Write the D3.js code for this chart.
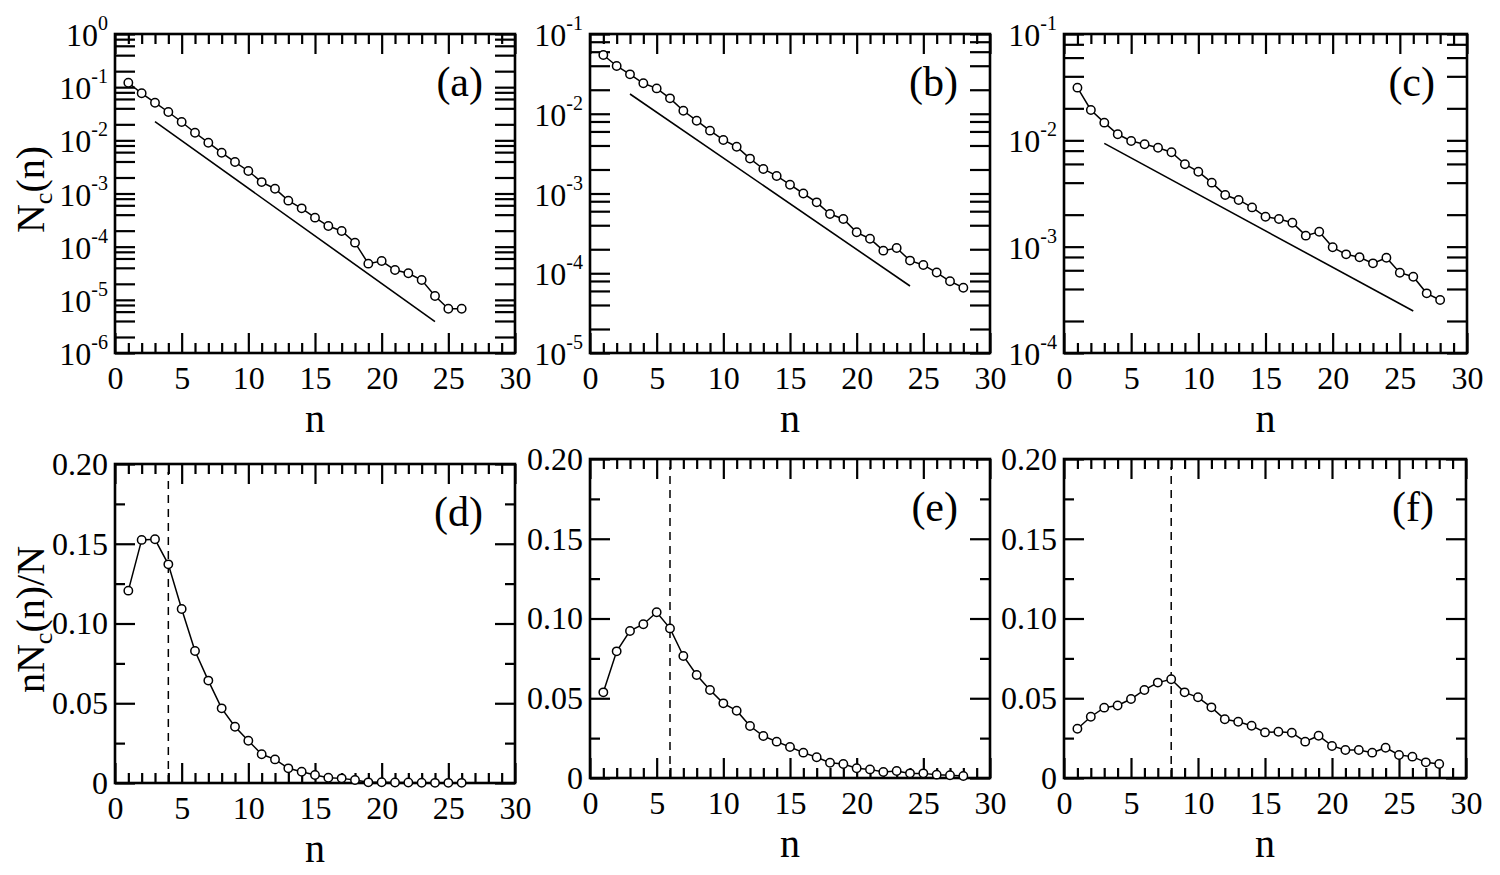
<!DOCTYPE html>
<html>
<head>
<meta charset="utf-8">
<script src="https://cdn.jsdelivr.net/npm/d3@7"></script>
<style>
  body { margin: 0; background: #fff; }
  svg text { font-family: "Liberation Serif", "Times New Roman", serif; fill: #000; }
</style>
</head>
<body>
<svg id="fig" width="1500" height="875"></svg>
<script>
// cluster size n
const nTo26 = [1,2,3,4,5,6,7,8,9,10,11,12,13,14,15,16,17,18,19,20,21,22,23,24,25,26];
const nTo28 = [1,2,3,4,5,6,7,8,9,10,11,12,13,14,15,16,17,18,19,20,21,22,23,24,25,26,27,28];

// N_c(n), log panels
const ncA = [0.121,0.0766,0.051,0.0341,0.0221,0.0139,0.00902,0.00585,0.00391,0.00265,0.00164,0.00123,
  0.000733,0.000526,0.000351,0.000244,0.000197,0.000119,4.79e-5,5.37e-5,3.64e-5,3.16e-5,2.36e-5,1.18e-5,6.8e-6,6.8e-6];
const ncB = [0.0546,0.0397,0.0312,0.0241,0.0208,0.0156,0.0109,0.00818,0.00614,0.00469,0.00386,0.00274,
  0.00203,0.00166,0.00129,0.00100,0.000774,0.000553,0.000479,0.000326,0.000271,0.000192,0.000207,0.000144,
  0.000127,0.000102,7.93e-5,6.59e-5];
const ncC = [0.0313,0.0193,0.01466,0.0114,0.00987,0.00918,0.00853,0.00773,0.00596,0.00507,0.0040,0.00306,
  0.00275,0.00234,0.00191,0.00182,0.00168,0.00127,0.00138,0.000986,0.000847,0.000794,0.000697,0.000787,
  0.000569,0.000522,0.000364,0.000315];

// straight guide lines [n start, n end], [value start, value end]
const refA = { n: [3, 24], v: [0.0224, 3.9e-6] };
const refB = { n: [3, 24], v: [0.0177, 6.92e-5] };
const refC = { n: [3, 26], v: [0.00937, 0.000248] };

// n N_c(n) / N, linear panels
const fracD = [0.1206,0.1524,0.1528,0.1371,0.1091,0.0828,0.0642,0.0468,0.0353,0.0265,0.0180,0.0148,
  0.0092,0.0071,0.0050,0.0033,0.0029,0.0019,0.0004,0.0005,0.0003,0.0003,0.0002,0.0001,0.0001,0.0001];
const fracE = [0.0537,0.0794,0.0922,0.0964,0.1039,0.0938,0.0765,0.0646,0.0552,0.0468,0.0422,0.0326,
  0.0263,0.0228,0.0194,0.0159,0.0130,0.0096,0.0088,0.0061,0.0054,0.0038,0.0044,0.0029,0.0029,0.0021,
  0.0017,0.0013];
const fracF = [0.0309,0.0384,0.0441,0.0455,0.0495,0.0552,0.0598,0.0619,0.0537,0.0506,0.0443,0.0368,
  0.0353,0.0328,0.0286,0.0290,0.0284,0.0228,0.0265,0.0201,0.0176,0.0176,0.0159,0.0190,0.0144,0.0134,
  0.0098,0.0088];

// dashed markers
const peakD = 4, peakE = 6, peakF = 8;

// ticks
const xMajor = [0,5,10,15,20,25,30];
const xMinor = [1,2,3,4,6,7,8,9,11,12,13,14,16,17,18,19,21,22,23,24,26,27,28,29];
const linMajor = [0,0.05,0.10,0.15,0.20];
const linLabels = ["0","0.05","0.10","0.15","0.20"];
const linMinor = [0.025,0.075,0.125,0.175];
const logMinorMult = [2,4,6,8];

const serif = '"Liberation Serif", "Times New Roman", serif';
const svg = d3.select("#fig");

const panels = [
  { tag: "(a)", left: 115, right: 515, top: 34, bottom: 353, log: true, dom: [1e-6, 1], n: nTo26, v: ncA, ref: refA, ylab: "nc" },
  { tag: "(b)", left: 590, right: 990, top: 34, bottom: 353, log: true, dom: [1e-5, 1e-1], n: nTo28, v: ncB, ref: refB },
  { tag: "(c)", left: 1064, right: 1467, top: 34, bottom: 353, log: true, dom: [1e-4, 1e-1], n: nTo28, v: ncC, ref: refC },
  { tag: "(d)", left: 115, right: 515, top: 464, bottom: 783, log: false, dom: [0, 0.2], n: nTo26, v: fracD, peak: peakD, ylab: "frac" },
  { tag: "(e)", left: 590, right: 990, top: 459, bottom: 778, log: false, dom: [0, 0.2], n: nTo28, v: fracE, peak: peakE },
  { tag: "(f)", left: 1064, right: 1466, top: 459, bottom: 778, log: false, dom: [0, 0.2], n: nTo28, v: fracF, peak: peakF }
];

function styleTicks(sel) {
  sel.attr("font-family", null);
  sel.select(".domain").remove();
  sel.selectAll(".tick line").attr("stroke", "#000").attr("stroke-width", 2.2);
  sel.selectAll(".tick text")
    .style("font-family", serif)
    .style("font-size", "32px")
    .attr("fill", "#000");
}

panels.forEach(p => {
  const g = svg.append("g");
  const x = d3.scaleLinear().domain([0, 30]).range([p.left, p.right]);
  const y = (p.log ? d3.scaleLog() : d3.scaleLinear()).domain(p.dom).range([p.bottom, p.top]);

  // x ticks, bottom and top, pointing inward
  g.append("g").attr("transform", `translate(0,${p.bottom})`)
    .call(d3.axisBottom(x).tickValues(xMajor).tickSize(-20).tickPadding(13).tickFormat(d3.format("d")))
    .call(styleTicks);
  g.append("g").attr("transform", `translate(0,${p.bottom})`)
    .call(d3.axisBottom(x).tickValues(xMinor).tickSize(-10).tickFormat(""))
    .call(styleTicks);
  g.append("g").attr("transform", `translate(0,${p.top})`)
    .call(d3.axisTop(x).tickValues(xMajor).tickSize(-20).tickFormat(""))
    .call(styleTicks);
  g.append("g").attr("transform", `translate(0,${p.top})`)
    .call(d3.axisTop(x).tickValues(xMinor).tickSize(-10).tickFormat(""))
    .call(styleTicks);

  if (p.log) {
    const e0 = Math.round(Math.log10(p.dom[0])), e1 = Math.round(Math.log10(p.dom[1]));
    const major = d3.range(e0, e1 + 1).map(e => Math.pow(10, e));
    const minor = [];
    major.slice(0, -1).forEach(m => logMinorMult.forEach(k => minor.push(m * k)));

    const left = g.append("g").attr("transform", `translate(${p.left},0)`)
      .call(d3.axisLeft(y).tickValues(major).tickSize(-20).tickPadding(7).tickFormat(""))
      .call(styleTicks);
    left.selectAll(".tick text").attr("dy", "0.36em").each(function (d) {
      const t = d3.select(this);
      t.append("tspan").text("10");
      t.append("tspan").text(Math.round(Math.log10(d))).style("font-size", "20px").attr("dy", "-0.8em");
    });
    g.append("g").attr("transform", `translate(${p.left},0)`)
      .call(d3.axisLeft(y).tickValues(minor).tickSize(-20).tickFormat(""))
      .call(styleTicks);
    g.append("g").attr("transform", `translate(${p.right},0)`)
      .call(d3.axisRight(y).tickValues(major.concat(minor)).tickSize(-20).tickFormat(""))
      .call(styleTicks);
  } else {
    g.append("g").attr("transform", `translate(${p.left},0)`)
      .call(d3.axisLeft(y).tickValues(linMajor).tickSize(-20).tickPadding(7).tickFormat((d, i) => linLabels[i]))
      .call(styleTicks);
    g.append("g").attr("transform", `translate(${p.left},0)`)
      .call(d3.axisLeft(y).tickValues(linMinor).tickSize(-10).tickFormat(""))
      .call(styleTicks);
    g.append("g").attr("transform", `translate(${p.right},0)`)
      .call(d3.axisRight(y).tickValues(linMajor).tickSize(-20).tickFormat(""))
      .call(styleTicks);
    g.append("g").attr("transform", `translate(${p.right},0)`)
      .call(d3.axisRight(y).tickValues(linMinor).tickSize(-10).tickFormat(""))
      .call(styleTicks);
  }

  // frame
  g.append("rect")
    .attr("x", p.left).attr("y", p.top)
    .attr("width", p.right - p.left).attr("height", p.bottom - p.top)
    .attr("fill", "none").attr("stroke", "#000").attr("stroke-width", 2.6);

  // guide line / dashed marker
  if (p.ref) {
    g.append("line")
      .attr("x1", x(p.ref.n[0])).attr("y1", y(p.ref.v[0]))
      .attr("x2", x(p.ref.n[1])).attr("y2", y(p.ref.v[1]))
      .attr("stroke", "#000").attr("stroke-width", 1.6);
  }
  if (p.peak !== undefined) {
    g.append("line")
      .attr("x1", x(p.peak)).attr("y1", y(0))
      .attr("x2", x(p.peak)).attr("y2", y(0.195))
      .attr("stroke", "#000").attr("stroke-width", 1.5)
      .attr("stroke-dasharray", "8,6");
  }

  // series
  const pts = p.n.map((n, i) => ({ n: n, v: p.v[i] }));
  g.append("path")
    .datum(pts)
    .attr("fill", "none").attr("stroke", "#000").attr("stroke-width", 1.5)
    .attr("d", d3.line().x(d => x(d.n)).y(d => y(d.v)));
  g.selectAll("circle")
    .data(pts)
    .enter()
    .append("circle")
    .attr("cx", d => x(d.n)).attr("cy", d => y(d.v))
    .attr("r", 4.2)
    .attr("fill", "#fff").attr("stroke", "#000").attr("stroke-width", 1.5);

  // panel tag
  g.append("text")
    .attr("x", p.right - 32).attr("y", p.top + 62)
    .attr("text-anchor", "end")
    .style("font-size", "42px")
    .text(p.tag);

  // x label
  g.append("text")
    .attr("x", (p.left + p.right) / 2).attr("y", p.bottom + 79)
    .attr("text-anchor", "middle")
    .style("font-size", "40px")
    .text("n");

  // y labels
  if (p.ylab) {
    const yl = g.append("text")
      .attr("transform", `translate(44,${(p.top + p.bottom) / 2 - 4}) rotate(-90)`)
      .attr("text-anchor", "middle")
      .style("font-size", "40px");
    if (p.ylab === "frac") yl.append("tspan").text("nN");
    else yl.append("tspan").text("N");
    yl.append("tspan").text("c").style("font-size", "26px").attr("dy", 8);
    yl.append("tspan").text(p.ylab === "frac" ? "(n)/N" : "(n)").attr("dy", -8);
  }
});
</script>
</body>
</html>
